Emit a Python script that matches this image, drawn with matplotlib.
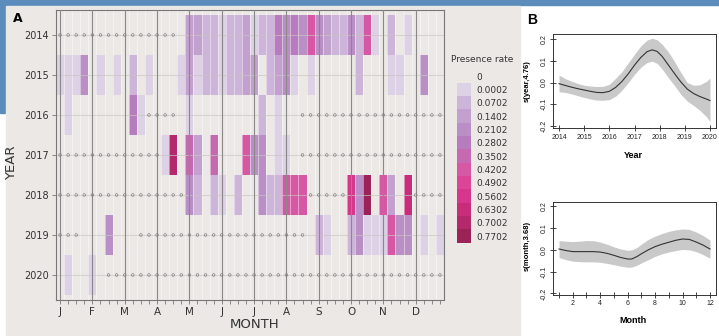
import numpy as np
import matplotlib.pyplot as plt
from matplotlib.patches import Rectangle
from matplotlib.colors import ListedColormap, BoundaryNorm

W, H = 719, 336

years = [2014, 2015, 2016, 2017, 2018, 2019, 2020]
month_letters = ['J', 'F', 'M', 'A', 'M', 'J', 'J', 'A', 'S', 'O', 'N', 'D']
legend_labels = ['0', '0.0002', '0.0702', '0.1402', '0.2102', '0.2802', '0.3502',
                 '0.4202', '0.4902', '0.5602', '0.6302', '0.7002', '0.7702']
level_colors = ['#dcd1e5', '#cdb4d9', '#c3a1ce', '#b98fc6', '#b77cbd', '#c56ab1',
                '#d657a3', '#dc4497', '#d6368b', '#c82d7c', '#b4296c', '#9b2358']

# one string per year, 48 weeks, grouped by month:
# '.' nothing, 'o' not sampled (dot), 1-9,a,b,c = presence class
presence = {
    2014: "oooo oooo oooo ooo. 3322 1223 1225 4547 4322 4271 .2.1 ....",
    2015: "1114 .1.1 .2.1 ...1 3122 1223 3.23 41.1 .... .2.. .11. .4..",
    2016: ".1.. .... .51o ooo. 1... .... .2.1 ..oo oooo oooo oooo oooo",
    2017: "oooo oooo oooo o1b. 63.6 ...7 44.1 1.oo oooo oooo oooo oooo",
    2018: "oooo oooo oooo oooo 42.2 1.2. .422 777o oooo 94c. 73.a oooo",
    2019: "ooo. ..4. ..oo oooo oooo oooo oooo ooo. 21.. 2411 1744 .1.1",
    2020: ".1.. 1.oo oooo oooo oooo oooo oooo oooo oooo oooo oooo oooo",
}

# GAM smooths (panel B)
year_x = [2014.0, 2014.25, 2014.5, 2014.75, 2015.0, 2015.25, 2015.5, 2015.75, 2016.0,
          2016.25, 2016.5, 2016.75, 2017.0, 2017.25, 2017.5, 2017.7, 2017.9, 2018.1,
          2018.35, 2018.6, 2018.85, 2019.1, 2019.35, 2019.6, 2019.85, 2020.0]
year_fit = [-0.005, -0.013, -0.021, -0.028, -0.034, -0.040, -0.045, -0.046, -0.040,
            -0.022, 0.005, 0.040, 0.080, 0.115, 0.142, 0.150, 0.143, 0.120,
            0.080, 0.040, 0.002, -0.030, -0.050, -0.064, -0.075, -0.082]
year_lo = [-0.042, -0.045, -0.052, -0.060, -0.068, -0.075, -0.080, -0.081, -0.078,
           -0.062, -0.035, 0.000, 0.038, 0.070, 0.092, 0.098, 0.088, 0.062,
           0.022, -0.015, -0.055, -0.085, -0.105, -0.127, -0.155, -0.178]
year_hi = [0.035, 0.018, 0.006, -0.004, -0.012, -0.016, -0.018, -0.017, -0.008,
           0.020, 0.050, 0.090, 0.130, 0.168, 0.195, 0.203, 0.196, 0.175,
           0.140, 0.095, 0.045, 0.000, -0.012, -0.010, 0.005, 0.020]

month_x = [1, 1.5, 2, 2.5, 3, 3.5, 4, 4.5, 5, 5.5, 6, 6.3, 6.7, 7, 7.5, 8, 8.5, 9,
           9.5, 10, 10.5, 11, 11.5, 12]
month_fit = [0.004, -0.003, -0.008, -0.008, -0.008, -0.008, -0.010, -0.016, -0.025,
             -0.035, -0.042, -0.042, -0.030, -0.018, 0.000, 0.015, 0.026, 0.035,
             0.044, 0.050, 0.048, 0.036, 0.022, 0.004]
month_lo = [-0.035, -0.045, -0.052, -0.054, -0.055, -0.055, -0.057, -0.062, -0.068,
            -0.075, -0.080, -0.079, -0.070, -0.060, -0.045, -0.030, -0.018, -0.010,
            -0.003, 0.002, 0.000, -0.008, -0.022, -0.038]
month_hi = [0.043, 0.040, 0.038, 0.040, 0.043, 0.042, 0.036, 0.026, 0.014,
            0.004, -0.002, 0.000, 0.012, 0.026, 0.048, 0.063, 0.075, 0.085,
            0.092, 0.096, 0.094, 0.082, 0.066, 0.045]


def box(l, t, r, b):
    return [l / W, 1 - b / H, (r - l) / W, (b - t) / H]


fig = plt.figure(figsize=(W / 100, H / 100), dpi=100, facecolor='white')

# page background: blue frame bits + grey panel A area
fig.patches.append(Rectangle((0, 1 - 5 / H), 1, 5 / H, transform=fig.transFigure,
                             color='#5b8cbb', zorder=-10))
fig.patches.append(Rectangle((0, 1 - 113 / H), 5 / W, 113 / H, transform=fig.transFigure,
                             color='#5b8cbb', zorder=-10))
fig.patches.append(Rectangle((6 / W, 0), 514 / W, 1 - 6 / H, transform=fig.transFigure,
                             color='#ebe8e5', zorder=-10))

# ---------------- panel A: heatmap ----------------
codes = '123456789abc'
nweeks = 48
Z = np.full((len(years), nweeks), np.nan)
dot_w, dot_y = [], []
for i, yr in enumerate(years):
    row = presence[yr].replace(' ', '')
    for j, c in enumerate(row):
        if c == 'o':
            dot_w.append(j + 1)
            dot_y.append(yr)
        elif c in codes:
            Z[i, j] = codes.index(c) + 1

cmap = ListedColormap(level_colors)
norm = BoundaryNorm(np.arange(0.5, 13.5), cmap.N)

ax = fig.add_axes(box(56, 10, 444, 300))
ax.set_facecolor('#ebe8e5')
ax.pcolormesh(np.arange(0.5, nweeks + 1), np.arange(2013.5, 2021), np.ma.masked_invalid(Z),
              cmap=cmap, norm=norm, zorder=1)
for e in np.arange(0.5, nweeks + 1):
    ax.axvline(e, color='white', lw=0.7, alpha=0.45, zorder=2)
for yr in years:
    ax.axhline(yr, color='#c9c5c2', lw=0.6, alpha=0.8, zorder=2)
for w in range(1, nweeks + 1, 4):
    ax.axvline(w, color='#8a8888', lw=0.8, zorder=3)
ax.scatter(dot_w, dot_y, s=3.5, facecolors='none', edgecolors='#808080',
           linewidths=0.5, zorder=4)

ax.set_xlim(0.5, nweeks + 0.5)
ax.set_ylim(2020.625, 2013.375)
ax.set_yticks(years)
ax.set_yticklabels([str(y) for y in years], fontsize=7, color='#333333')
ax.set_xticks(range(1, nweeks + 1, 4))
ax.set_xticklabels(month_letters, fontsize=7.5, color='#333333')
ax.set_xticks(range(1, nweeks + 1), minor=True)
ax.tick_params(axis='both', which='both', length=3, width=0.6, color='#777777', pad=2)
for s in ax.spines.values():
    s.set_color('#777777')
    s.set_linewidth(0.8)

fig.text(13 / W, 1 - 19 / H, 'A', fontsize=9, fontweight='bold', va='center')
fig.text(12 / W, 1 - 163 / H, 'YEAR', rotation=90, va='center', ha='center',
         fontsize=9.5, color='#333333')
fig.text(255 / W, 1 - 325 / H, 'MONTH', ha='center', va='center', fontsize=9.5,
         color='#333333')

# legend
fig.text(451 / W, 1 - 60 / H, 'Presence rate', fontsize=6.5, va='center', color='#333333')
lax = fig.add_axes(box(456.7, 69.4, 470.7, 242.7))
lax.set_facecolor('none')
lax.barh(range(1, 13), 1, height=1, left=0, color=level_colors)
lax.set_xlim(0, 1)
lax.set_ylim(12.5, -0.5)
lax.set_xticks([])
lax.yaxis.tick_right()
lax.set_yticks(range(13))
lax.set_yticklabels(legend_labels, fontsize=6.5, color='#333333')
lax.tick_params(length=0, pad=4)
for s in lax.spines.values():
    s.set_visible(False)

# ---------------- panel B: smooths ----------------
bfont = 'Liberation Sans'
fig.text(527 / W, 1 - 20 / H, 'B', fontsize=10, fontweight='bold', va='center',
         family=bfont)

yt = [-0.2, -0.1, 0.0, 0.1, 0.2]
ytl = ['-0.2', '-0.1', '0.0', '0.1', '0.2']

bt = fig.add_axes(box(553, 33.5, 716, 128))
bt.fill_between(year_x, year_lo, year_hi, color='#c9c9c9', lw=0)
bt.plot(year_x, year_fit, color='#333333', lw=0.8)
bt.set_xlim(2013.76, 2020.24)
bt.set_ylim(-0.208, 0.225)
bt.set_xticks(years)
bt.set_xticklabels([str(y) for y in years])

bb = fig.add_axes(box(553, 202, 716, 294.5))
bb.fill_between(month_x, month_lo, month_hi, color='#c9c9c9', lw=0)
bb.plot(month_x, month_fit, color='#333333', lw=0.8)
bb.set_xlim(0.56, 12.44)
bb.set_ylim(-0.205, 0.22)
bb.set_xticks(range(1, 13))
bb.set_xticklabels([str(m) if m % 2 == 0 else '' for m in range(1, 13)])

for b in (bt, bb):
    b.set_yticks(yt)
    b.set_yticklabels(ytl, rotation=90, va='center')
    b.tick_params(axis='both', direction='inout', length=4, width=0.6, labelsize=5,
                  pad=2, colors='#222222')
    for lab in b.get_xticklabels() + b.get_yticklabels():
        lab.set_family(bfont)
    for s in b.spines.values():
        s.set_linewidth(0.7)
        s.set_color('#333333')

fig.text(633 / W, 1 - 155 / H, 'Year', ha='center', va='center', fontsize=6.5,
         fontweight='bold', family=bfont)
fig.text(633 / W, 1 - 320.5 / H, 'Month', ha='center', va='center', fontsize=6.5,
         fontweight='bold', family=bfont)
fig.text(527 / W, 1 - 81 / H, 's(year,4.76)', rotation=90, ha='center', va='center',
         fontsize=5.5, fontweight='bold', family=bfont)
fig.text(527 / W, 1 - 246 / H, 's(month,3.68)', rotation=90, ha='center', va='center',
         fontsize=5.5, fontweight='bold', family=bfont)

fig.savefig('out.png', dpi=100, facecolor=fig.get_facecolor())
